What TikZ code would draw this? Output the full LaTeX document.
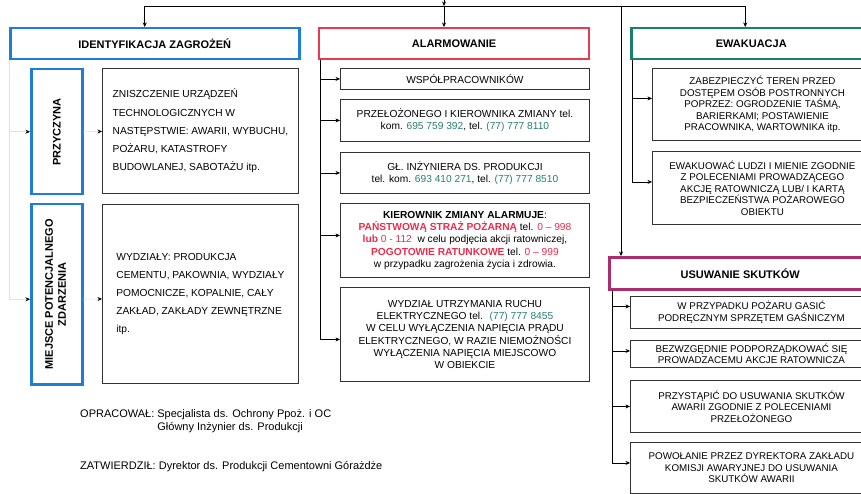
\documentclass[tikz,border=0pt]{standalone}
\usepackage{fontspec}
\setmainfont{Liberation Sans}
\usetikzlibrary{arrows.meta}

\definecolor{idblau}{RGB}{30,125,215}
\definecolor{alarmrot}{RGB}{232,58,82}
\definecolor{ewakgruen}{RGB}{22,128,108}
\definecolor{usuwlila}{RGB}{172,44,112}
\definecolor{telgruen}{RGB}{40,128,112}
\definecolor{textrot}{RGB}{235,45,75}

\newcommand{\tel}[1]{\textcolor{telgruen}{#1}}
\newcommand{\rot}[1]{\textcolor{textrot}{#1}}

\begin{document}
\begin{tikzpicture}[x=1pt, y=-1pt,
		kopf/.style={draw=#1, anchor=north west, font=\fontsize{11}{13}\selectfont\bfseries},
		seite/.style={draw=idblau, line width=2.5pt, anchor=north west, font=\fontsize{11}{13}\selectfont\bfseries},
		kasten/.style={draw=black!80, line width=0.9pt, anchor=north west, inner sep=2pt},
		linkstext/.style={kasten, align=left, minimum width=196, font=\fontsize{10.2}{18.2}\selectfont},
		mitteltext/.style={kasten, align=center, minimum width=249, font=\fontsize{10.2}{12.2}\selectfont},
		rechtstext/.style={kasten, align=center, font=\fontsize{9.8}{11.5}\selectfont},
		pfeil/.style={line width=0.6pt, -{Stealth[length=4.5pt, width=4pt]}},
		blass/.style={draw=black!12, line width=0.6pt, -{Stealth[length=4.5pt, width=4pt, color=black]}}]
		\useasboundingbox (0,0) rectangle (861,494);
		% Linke Spalte
		\begin{scope}
			\node[kopf=idblau, line width=2.5pt, minimum width=289, minimum height=31] (ident) at (9,27) {IDENTYFIKACJA ZAGROŻEŃ};
			\node[seite, minimum width=51, minimum height=125] (przyczyna) at (30,68) {\rotatebox{90}{PRZYCZYNA}};
			\node[seite, minimum width=51, minimum height=180] (miejsce) at (30,203)
				{\rotatebox{90}{\begin{tabular}{@{}c@{}}MIEJSCE POTENCJALNEGO\\ZDARZENIA\end{tabular}}};
			\node[linkstext, minimum height=125] (ursache) at (102,68)
				{ZNISZCZENIE URZĄDZEŃ\\TECHNOLOGICZNYCH W\\NASTĘPSTWIE: AWARII, WYBUCHU,\\POŻARU, KATASTROFY\\BUDOWLANEJ, SABOTAŻU itp.};
			\node[linkstext, minimum height=179] (wydzialy) at (102,204)
				{WYDZIAŁY: PRODUKCJA\\CEMENTU, PAKOWNIA, WYDZIAŁY\\POMOCNICZE, KOPALNIE, CAŁY\\ZAKŁAD, ZAKŁADY ZEWNĘTRZNE\\itp.};
		\end{scope}
		% Mittlere Spalte
		\begin{scope}
			\node[kopf=alarmrot, line width=2pt, minimum width=270, minimum height=31] (alarm) at (318,27) {ALARMOWANIE};
			\node[mitteltext, minimum height=21] (wsp) at (340,68) {WSPÓŁPRACOWNIKÓW};
			\node[mitteltext, minimum height=42] (przel) at (340,99)
				{PRZEŁOŻONEGO I KIEROWNIKA ZMIANY tel.\\kom. \tel{695 759 392}, tel. \tel{(77) 777 8110}};
			\node[mitteltext, minimum height=41] (inz) at (340,152)
				{GŁ. INŻYNIERA DS. PRODUKCJI\\tel. kom. \tel{693 410 271}, tel. \tel{(77) 777 8510}};
			\node[mitteltext, minimum height=74] (kier) at (340,203)
				{\textbf{KIEROWNIK ZMIANY ALARMUJE}:\\
				\rot{\textbf{PAŃSTWOWĄ STRAŻ POŻARNĄ}} tel. \rot{0 – 998}\\
				\rot{\textbf{lub} 0 - 112} \ w celu podjęcia akcji ratowniczej,\\
				\rot{\textbf{POGOTOWIE RATUNKOWE}} tel. \rot{0 – 999}\\
				w przypadku zagrożenia życia i zdrowia.};
			\node[mitteltext, minimum height=94] (wydz) at (340,287)
				{WYDZIAŁ UTRZYMANIA RUCHU\\ELEKTRYCZNEGO tel. \ \tel{(77) 777 8455}\\W CELU WYŁĄCZENIA NAPIĘCIA PRĄDU\\
				ELEKTRYCZNEGO, W RAZIE NIEMOŻNOŚCI\\WYŁĄCZENIA NAPIĘCIA MIEJSCOWO\\W OBIEKCIE};
		\end{scope}
		% Rechte Spalte
		\begin{scope}
			\node[kopf=ewakgruen, line width=2.5pt, minimum width=240, minimum height=31] (ewak) at (630,27) {EWAKUACJA};
			\node[rechtstext, minimum width=220, minimum height=72] (zabez) at (652,68)
				{ZABEZPIECZYĆ TEREN PRZED\\DOSTĘPEM OSÓB POSTRONNYCH\\POPRZEZ: OGRODZENIE TAŚMĄ,\\BARIERKAMI; POSTAWIENIE\\PRACOWNIKA, WARTOWNIKA itp.};
			\node[rechtstext, minimum width=220, minimum height=73] (ludzi) at (652,151)
				{EWAKUOWAĆ LUDZI I MIENIE ZGODNIE\\Z POLECENIAMI PROWADZĄCEGO\\AKCJĘ RATOWNICZĄ LUB/ I KARTĄ\\BEZPIECZEŃSTWA POŻAROWEGO\\OBIEKTU};
			\node[kopf=usuwlila, line width=2.5pt, minimum width=262, minimum height=32] (usuw) at (608,256) {USUWANIE SKUTKÓW};
			\node[rechtstext, minimum width=242, minimum height=32] (gasic) at (630,296)
				{W PRZYPADKU POŻARU GASIĆ\\PODRĘCZNYM SPRZĘTEM GAŚNICZYM};
			\node[rechtstext, minimum width=242, minimum height=27] (bezw) at (630,340)
				{BEZWZGĘDNIE PODPORZĄDKOWAĆ SIĘ\\PROWADZACEMU AKCJE RATOWNICZA};
			\node[rechtstext, minimum width=242, minimum height=52] (przyst) at (630,380)
				{PRZYSTĄPIĆ DO USUWANIA SKUTKÓW\\AWARII ZGODNIE Z POLECENIAMI\\PRZEŁOŻONEGO};
			\node[rechtstext, minimum width=242, minimum height=51] (powol) at (630,442)
				{POWOŁANIE PRZEZ DYREKTORA ZAKŁADU\\KOMISJI AWARYJNEJ DO USUWANIA\\SKUTKÓW AWARII};
		\end{scope}
		% Verbindungen oben
		\coordinate (quelle) at (444,-6);
		\coordinate (knoten) at (444,6);
		\draw[pfeil] (quelle) -- (knoten);
		\draw[pfeil] (knoten) -- (alarm.north -| knoten);
		\draw[pfeil] (knoten) -| ([xshift=-10pt]ident.north);
		\draw[pfeil] (knoten) -| ([xshift=-6pt]ewak.north);
		\draw[pfeil] (knoten) -| ([xshift=13pt]usuw.north west);
		% Linien links
		\coordinate (istamm) at ([xshift=0.5pt]ident.south west);
		\draw[line width=0.6pt] (istamm) -- ++(0,230);
		\draw[blass] (istamm) |- (przyczyna.west);
		\draw[blass] (istamm) |- ([yshift=-5pt]miejsce.west);
		\draw[blass] (przyczyna) -- (ursache);
		\draw[blass] ([yshift=-5pt]miejsce.east) -- ([yshift=-5pt]wydzialy.west);
		% Linien Mitte
		\coordinate (astamm) at ([xshift=2pt]alarm.south west);
		\draw[pfeil] (astamm) |- (wsp);
		\draw[pfeil] (astamm) |- (przel);
		\draw[pfeil] (astamm) |- (inz);
		\draw[pfeil] (astamm) |- ([yshift=5pt]kier.west);
		\draw[pfeil] (astamm) |- ([yshift=-5pt]wydz.west);
		% Linien rechts
		\coordinate (estamm) at ([xshift=2pt]ewak.south west);
		\draw[pfeil] (estamm) |- ([yshift=6pt]zabez.west);
		\draw[pfeil] (estamm) |- ([yshift=6pt]ludzi.west);
		\coordinate (ustamm) at ([xshift=4pt]usuw.south west);
		\draw[pfeil] (ustamm) |- ([yshift=6pt]gasic.west);
		\draw[pfeil] (ustamm) |- ([yshift=3pt]bezw.west);
		\draw[pfeil] (ustamm) |- (przyst);
		\draw[pfeil] (ustamm) |- ([yshift=5pt]powol.west);
		% Fusszeile
		\node[anchor=base west, font=\fontsize{11}{13.5}\selectfont, inner sep=0pt] (opracowal) at (80,417)
			{\begin{tabular}[t]{@{}l@{ }l@{}}OPRACOWAŁ: & Specjalista ds. Ochrony Ppoż. i OC\\ & Główny Inżynier ds. Produkcji\end{tabular}};
		\node[anchor=base west, font=\fontsize{11}{13.5}\selectfont, inner sep=0pt] (zatwierdzil) at (80,469)
			{ZATWIERDZIŁ: Dyrektor ds. Produkcji Cementowni Górażdże};
	\end{tikzpicture}
\end{document}
